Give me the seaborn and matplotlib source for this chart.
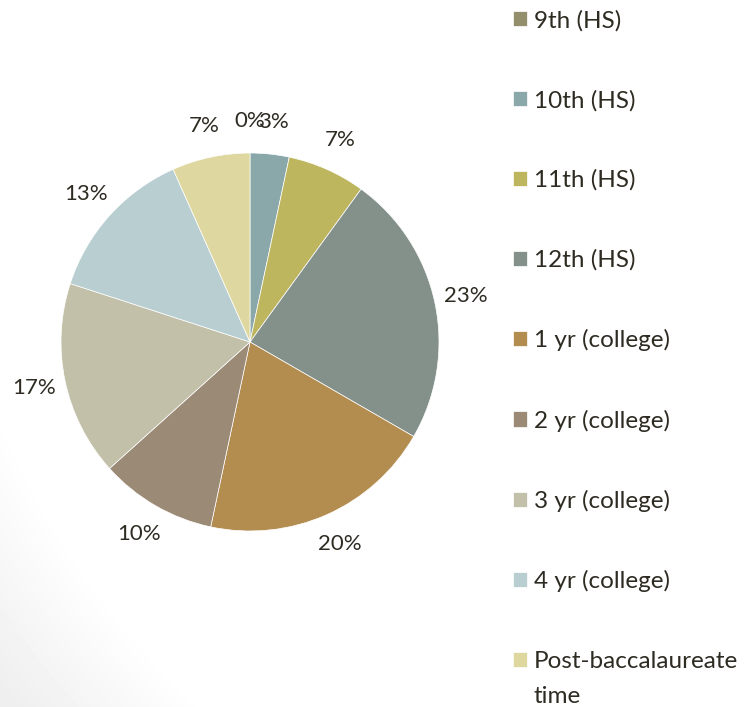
import numpy as np
import seaborn as sns
import matplotlib.pyplot as plt

# data (share of respondents, out of 30)
categories = ['9th (HS)', '10th (HS)', '11th (HS)', '12th (HS)', '1 yr (college)',
              '2 yr (college)', '3 yr (college)', '4 yr (college)', 'Post-baccalaureate']
counts = [0, 1, 2, 7, 6, 3, 5, 4, 2]
colors = ['#938E6B', '#8AA8A9', '#BDB65F', '#84918A', '#B38C50',
          '#9B8A76', '#C2C0A9', '#B8CED1', '#DED8A0']

sns.set_theme(style='white')
plt.rcParams['font.family'] = ['Lato', 'DejaVu Sans']
text_color = '#2E2B22'

fig = plt.figure(figsize=(7.44, 7.07), dpi=100)

# faint grey shading in the lower-left corner
bg = fig.add_axes([0, 0, 1, 1], zorder=-10)
yy, xx = np.mgrid[0:707, 0:744]
dist = np.hypot(xx - 720, yy - 130)
shade = 1 - 0.065 * np.clip((dist - 770) / 140, 0, 1)
bg.imshow(shade, cmap='gray', vmin=0, vmax=1, aspect='auto', extent=[0, 1, 0, 1])
bg.axis('off')

ax = fig.add_axes([61 / 744, 1 - 531 / 707, 378 / 744, 378 / 707])
palette = sns.color_palette(colors)
wedges, texts, autotexts = ax.pie(counts, colors=palette, startangle=90, counterclock=False,
                                  autopct='%1.0f%%', pctdistance=1.17,
                                  wedgeprops=dict(edgecolor='white', linewidth=0.5),
                                  textprops=dict(color=text_color, fontsize=16))
ax.set_xlim(-1, 1)
ax.set_ylim(-1, 1)
ax.set_aspect('equal')

fs = 17.5
leg = fig.legend(wedges, categories, loc='upper left', bbox_to_anchor=(503 / 744, 1.0),
                 frameon=False, fontsize=fs, labelspacing=2.40, handlelength=0.58,
                 handleheight=0.58, handletextpad=0.29, borderaxespad=0.0)
for t in leg.get_texts():
    t.set_color(text_color)

# second line of the last legend entry, aligned under its label
fig.canvas.draw()
last = leg.get_texts()[-1]
bb = last.get_window_extent().transformed(fig.transFigure.inverted())
fig.text(bb.x0, bb.y0 - 0.020, 'time', ha='left', va='top', fontsize=fs, color=text_color)

fig.savefig('out.png', dpi=100)
